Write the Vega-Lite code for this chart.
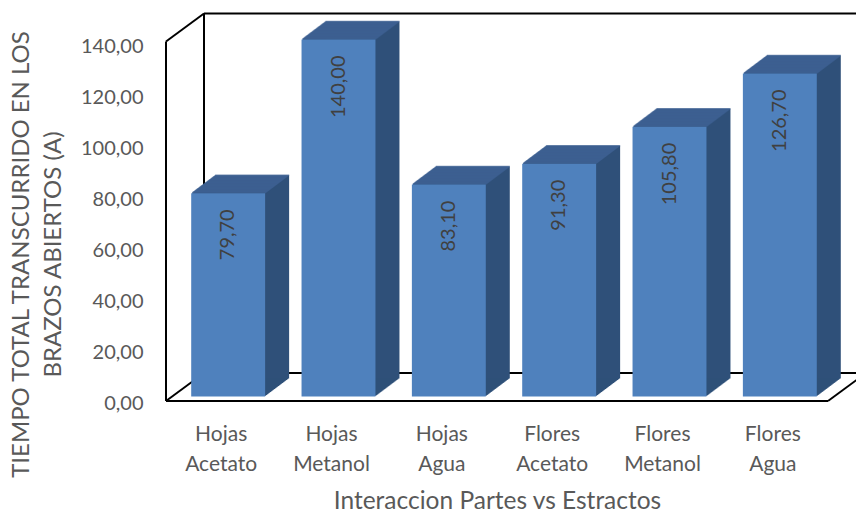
{
  "$schema": "https://vega.github.io/schema/vega-lite/v6.json",
  "width": 662,
  "height": 357,
  "autosize": "none",
  "padding": {"left": 166, "top": 44, "right": 28, "bottom": 111},
  "background": "white",
  "config": {
    "font": "Lato",
    "view": {"stroke": null},
    "locale": {"number": {"decimal": ",", "thousands": ".", "grouping": [3], "currency": ["", " €"]}}
  },
  "resolve": {"scale": {"x": "independent"}},
  "layer": [
    {
      "data": {"values": [{}]},
      "encoding": {
        "x": {"datum": 0, "type": "quantitative", "scale": {"domain": [0, 1]}, "axis": null},
        "y": {"datum": 0, "type": "quantitative", "scale": {"domain": [0, 140], "nice": false}}
      },
      "layer": [
        {"mark": {"type": "rule", "color": "#000000", "strokeWidth": 2, "xOffset": 38, "x2Offset": 38, "yOffset": -28},
         "encoding": {"x2": {"datum": 1}}},
        {"mark": {"type": "rule", "color": "#000000", "strokeWidth": 2, "xOffset": 38, "yOffset": -28, "y2Offset": -28},
         "encoding": {"y2": {"datum": 141}}},
        {"mark": {"type": "rule", "color": "#000000", "strokeWidth": 2, "xOffset": 38, "x2Offset": 38, "yOffset": -28},
         "encoding": {"y": {"datum": 141}, "x2": {"datum": 1}}},
        {"mark": {"type": "rule", "color": "#000000", "strokeWidth": 2, "x2Offset": 38, "y2Offset": -28},
         "encoding": {"x2": {"datum": 0}, "y2": {"datum": 0}}},
        {"mark": {"type": "rule", "color": "#000000", "strokeWidth": 2, "x2Offset": 38, "y2Offset": -28},
         "encoding": {"y": {"datum": 141}, "x2": {"datum": 0}, "y2": {"datum": 141}}},
        {"mark": {"type": "rule", "color": "#000000", "strokeWidth": 2, "x2Offset": 38, "y2Offset": -28},
         "encoding": {"x": {"datum": 1}, "x2": {"datum": 1}, "y2": {"datum": 0}}},
        {"mark": {"type": "rule", "color": "#000000", "strokeWidth": 2},
         "encoding": {"y2": {"datum": 141}}},
        {"mark": {"type": "rule", "color": "#000000", "strokeWidth": 2},
         "encoding": {"x2": {"datum": 1}}}
      ]
    },
    {
      "data": {
        "values": [
          {"interaccion": "Hojas Acetato", "tiempo": 79.7},
          {"interaccion": "Hojas Metanol", "tiempo": 140.0},
          {"interaccion": "Hojas Agua", "tiempo": 83.1},
          {"interaccion": "Flores Acetato", "tiempo": 91.3},
          {"interaccion": "Flores Metanol", "tiempo": 105.8},
          {"interaccion": "Flores Agua", "tiempo": 126.7}
        ]
      },
      "encoding": {
        "x": {
          "field": "interaccion", "type": "nominal", "sort": null,
          "scale": {"paddingInner": 0.33, "paddingOuter": 0.165},
          "axis": {
            "title": "Interaccion Partes vs Estractos",
            "domain": false, "ticks": false, "tickSize": 0,
            "labelAngle": 0, "labelFontSize": 21, "labelColor": "#595959",
            "labelPadding": 22, "labelLineHeight": 30,
            "labelExpr": "split(datum.label, ' ')",
            "titleFontSize": 24.5, "titleFontWeight": "normal", "titleColor": "#595959",
            "titleY": 107, "titleBaseline": "alphabetic"
          }
        },
        "y": {
          "field": "tiempo", "type": "quantitative",
          "scale": {"domain": [0, 140], "nice": false},
          "axis": {
            "title": ["TIEMPO TOTAL TRANSCURRIDO EN LOS", "BRAZOS ABIERTOS (A)"],
            "values": [0, 20, 40, 60, 80, 100, 120, 140],
            "format": ".2f",
            "domain": false, "ticks": false, "tickSize": 0, "grid": false,
            "labelFontSize": 20, "labelColor": "#595959", "labelPadding": 23, "labelOffset": 2,
            "titleFontSize": 24, "titleFontWeight": "normal", "titleColor": "#595959",
            "titleX": -145, "titleY": 210, "titleBaseline": "middle", "titleLineHeight": 32
          }
        }
      },
      "layer": [
        {"mark": {"type": "bar", "color": "#2F5079", "xOffset": 8, "yOffset": -5.25, "y2Offset": -5.25}},
        {"mark": {"type": "bar", "color": "#2F5079", "xOffset": 9, "yOffset": -6, "y2Offset": -6}},
        {"mark": {"type": "bar", "color": "#2F5079", "xOffset": 10, "yOffset": -6.75, "y2Offset": -6.75}},
        {"mark": {"type": "bar", "color": "#2F5079", "xOffset": 11, "yOffset": -7.5, "y2Offset": -7.5}},
        {"mark": {"type": "bar", "color": "#2F5079", "xOffset": 12, "yOffset": -8.25, "y2Offset": -8.25}},
        {"mark": {"type": "bar", "color": "#2F5079", "xOffset": 13, "yOffset": -9, "y2Offset": -9}},
        {"mark": {"type": "bar", "color": "#2F5079", "xOffset": 14, "yOffset": -9.75, "y2Offset": -9.75}},
        {"mark": {"type": "bar", "color": "#2F5079", "xOffset": 15, "yOffset": -10.5, "y2Offset": -10.5}},
        {"mark": {"type": "bar", "color": "#2F5079", "xOffset": 16, "yOffset": -11.25, "y2Offset": -11.25}},
        {"mark": {"type": "bar", "color": "#2F5079", "xOffset": 17, "yOffset": -12, "y2Offset": -12}},
        {"mark": {"type": "bar", "color": "#2F5079", "xOffset": 18, "yOffset": -12.75, "y2Offset": -12.75}},
        {"mark": {"type": "bar", "color": "#2F5079", "xOffset": 19, "yOffset": -13.5, "y2Offset": -13.5}},
        {"mark": {"type": "bar", "color": "#2F5079", "xOffset": 20, "yOffset": -14.25, "y2Offset": -14.25}},
        {"mark": {"type": "bar", "color": "#2F5079", "xOffset": 21, "yOffset": -15, "y2Offset": -15}},
        {"mark": {"type": "bar", "color": "#2F5079", "xOffset": 22, "yOffset": -15.75, "y2Offset": -15.75}},
        {"mark": {"type": "bar", "color": "#2F5079", "xOffset": 23, "yOffset": -16.5, "y2Offset": -16.5}},
        {"mark": {"type": "bar", "color": "#2F5079", "xOffset": 24, "yOffset": -17.25, "y2Offset": -17.25}},
        {"mark": {"type": "bar", "color": "#2F5079", "xOffset": 25, "yOffset": -18, "y2Offset": -18}},
        {"mark": {"type": "bar", "color": "#2F5079", "xOffset": 26, "yOffset": -18.75, "y2Offset": -18.75}},
        {"mark": {"type": "bar", "color": "#2F5079", "xOffset": 27, "yOffset": -19.5, "y2Offset": -19.5}},
        {"mark": {"type": "bar", "color": "#2F5079", "xOffset": 28, "yOffset": -20.25, "y2Offset": -20.25}},
        {"mark": {"type": "bar", "color": "#2F5079", "xOffset": 29, "yOffset": -21, "y2Offset": -21}},
        {"mark": {"type": "bar", "color": "#2F5079", "xOffset": 30, "yOffset": -21.75, "y2Offset": -21.75}},
        {"mark": {"type": "bar", "color": "#2F5079", "xOffset": 31, "yOffset": -22.5, "y2Offset": -22.5}},
        {"mark": {"type": "tick", "color": "#3E6394", "size": 74, "thickness": 1.5, "xOffset": 8, "yOffset": -5.25}},
        {"mark": {"type": "tick", "color": "#3E6394", "size": 74, "thickness": 1.5, "xOffset": 9, "yOffset": -6}},
        {"mark": {"type": "tick", "color": "#3E6394", "size": 74, "thickness": 1.5, "xOffset": 10, "yOffset": -6.75}},
        {"mark": {"type": "tick", "color": "#3E6394", "size": 74, "thickness": 1.5, "xOffset": 11, "yOffset": -7.5}},
        {"mark": {"type": "tick", "color": "#3E6394", "size": 74, "thickness": 1.5, "xOffset": 12, "yOffset": -8.25}},
        {"mark": {"type": "tick", "color": "#3E6394", "size": 74, "thickness": 1.5, "xOffset": 13, "yOffset": -9}},
        {"mark": {"type": "tick", "color": "#3E6394", "size": 74, "thickness": 1.5, "xOffset": 14, "yOffset": -9.75}},
        {"mark": {"type": "tick", "color": "#3E6394", "size": 74, "thickness": 1.5, "xOffset": 15, "yOffset": -10.5}},
        {"mark": {"type": "tick", "color": "#3E6394", "size": 74, "thickness": 1.5, "xOffset": 16, "yOffset": -11.25}},
        {"mark": {"type": "tick", "color": "#3E6394", "size": 74, "thickness": 1.5, "xOffset": 17, "yOffset": -12}},
        {"mark": {"type": "tick", "color": "#3E6394", "size": 74, "thickness": 1.5, "xOffset": 18, "yOffset": -12.75}},
        {"mark": {"type": "tick", "color": "#3E6394", "size": 74, "thickness": 1.5, "xOffset": 19, "yOffset": -13.5}},
        {"mark": {"type": "tick", "color": "#3E6394", "size": 74, "thickness": 1.5, "xOffset": 20, "yOffset": -14.25}},
        {"mark": {"type": "tick", "color": "#3E6394", "size": 74, "thickness": 1.5, "xOffset": 21, "yOffset": -15}},
        {"mark": {"type": "tick", "color": "#3E6394", "size": 74, "thickness": 1.5, "xOffset": 22, "yOffset": -15.75}},
        {"mark": {"type": "tick", "color": "#3E6394", "size": 74, "thickness": 1.5, "xOffset": 23, "yOffset": -16.5}},
        {"mark": {"type": "tick", "color": "#3E6394", "size": 74, "thickness": 1.5, "xOffset": 24, "yOffset": -17.25}},
        {"mark": {"type": "tick", "color": "#3E6394", "size": 74, "thickness": 1.5, "xOffset": 25, "yOffset": -18}},
        {"mark": {"type": "tick", "color": "#3E6394", "size": 74, "thickness": 1.5, "xOffset": 26, "yOffset": -18.75}},
        {"mark": {"type": "tick", "color": "#3E6394", "size": 74, "thickness": 1.5, "xOffset": 27, "yOffset": -19.5}},
        {"mark": {"type": "tick", "color": "#3E6394", "size": 74, "thickness": 1.5, "xOffset": 28, "yOffset": -20.25}},
        {"mark": {"type": "tick", "color": "#3E6394", "size": 74, "thickness": 1.5, "xOffset": 29, "yOffset": -21}},
        {"mark": {"type": "tick", "color": "#3E6394", "size": 74, "thickness": 1.5, "xOffset": 30, "yOffset": -21.75}},
        {"mark": {"type": "tick", "color": "#3E6394", "size": 74, "thickness": 1.5, "xOffset": 31, "yOffset": -22.5}},
        {"mark": {"type": "bar", "color": "#4F81BD", "xOffset": 7, "yOffset": -4.5, "y2Offset": -4.5}},
        {
          "mark": {"type": "text", "angle": 270, "align": "right", "baseline": "middle", "fontSize": 20, "color": "#404040", "xOffset": 7, "yOffset": 11.5},
          "encoding": {"text": {"field": "tiempo", "type": "quantitative", "format": ".2f"}}
        }
      ]
    }
  ]
}
